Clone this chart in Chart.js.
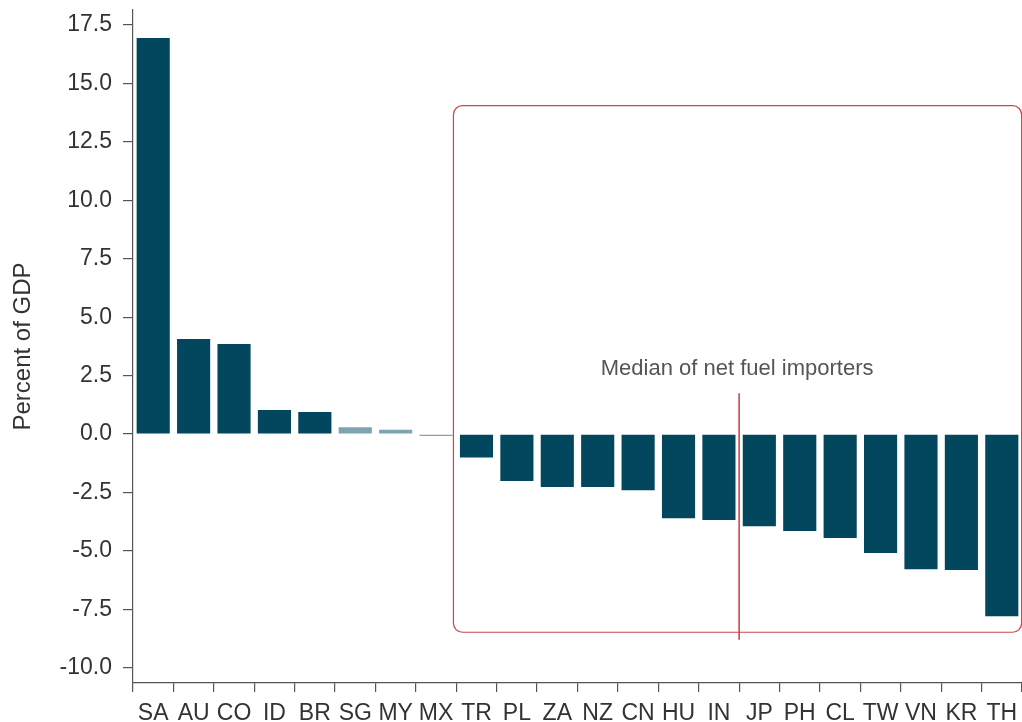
<!DOCTYPE html>
<html>
<head>
<meta charset="utf-8">
<script src="https://cdn.jsdelivr.net/npm/chart.js@4.4.1/dist/chart.umd.min.js"></script>
<style>
  html, body { margin: 0; padding: 0; background: #fff; }
  #wrap { width: 1022px; height: 722px; position: relative; }
</style>
</head>
<body>
<div id="wrap"><canvas id="balanceChart"></canvas></div>
<script>
// 국가 코드 / 값 (% of GDP)
const countries = ['SA', 'AU', 'CO', 'ID', 'BR', 'SG', 'MY', 'MX', 'TR', 'PL', 'ZA',
  'NZ', 'CN', 'HU', 'IN', 'JP', 'PH', 'CL', 'TW', 'VN', 'KR', 'TH'];
const values = [16.94, 4.07, 3.85, 1.03, 0.94, 0.29, 0.18, -0.08, -1.0, -2.01, -2.27,
  -2.27, -2.4, -3.6, -3.68, -3.94, -4.15, -4.45, -5.09, -5.78, -5.82, -7.79];
// 연한 색 막대 (SG, MY, MX)
const lightBars = ['SG', 'MY', 'MX'];
const yTicks = [-10, -7.5, -5, -2.5, 0, 2.5, 5, 7.5, 10, 12.5, 15, 17.5];

// 순 연료 수입국 박스 (category index / value 단위)
const boxX = [7.43, 21.49];
const boxY = [-8.48, 14.05];
const medianX = 14.5;
const medianY = [-8.8, 1.75];
const medianLabel = 'Median of net fuel importers';
const medianLabelY = 2.8;

const DARK = '#02475e';
const LIGHT = '#7ea4b1';
const RED = '#c9474a';
const FONT = '"Liberation Sans", Arial, sans-serif';

/* ── 박스 + 중앙값 선 플러그인 ── */
const importerBoxPlugin = {
  id: 'importerBox',
  afterDatasetsDraw(chart) {
    const { ctx } = chart;
    const x = chart.scales.x;
    const y = chart.scales.y;

    const left = x.getPixelForValue(boxX[0]);
    const right = x.getPixelForValue(boxX[1]);
    const top = y.getPixelForValue(boxY[1]);
    const bottom = y.getPixelForValue(boxY[0]);

    ctx.save();
    ctx.strokeStyle = RED;
    ctx.lineWidth = 1.2;
    ctx.beginPath();
    ctx.roundRect(left, top, right - left, bottom - top, 9);
    ctx.stroke();

    const mx = x.getPixelForValue(medianX);
    ctx.lineWidth = 1.6;
    ctx.beginPath();
    ctx.moveTo(mx, y.getPixelForValue(medianY[1]));
    ctx.lineTo(mx, y.getPixelForValue(medianY[0]));
    ctx.stroke();

    ctx.fillStyle = '#555';
    ctx.font = '22px ' + FONT;
    ctx.textAlign = 'center';
    ctx.textBaseline = 'middle';
    ctx.fillText(medianLabel, mx - 2, y.getPixelForValue(medianLabelY));
    ctx.restore();
  },
};

const tickFont = { family: FONT, size: 23 };

new Chart(document.getElementById('balanceChart'), {
  type: 'bar',
  data: {
    labels: countries,
    datasets: [{
      data: values,
      backgroundColor: countries.map((c) => (lightBars.includes(c) ? LIGHT : DARK)),
      borderWidth: 0,
      barPercentage: 0.82,
      categoryPercentage: 1,
    }],
  },
  options: {
    responsive: true,
    maintainAspectRatio: false,
    animation: false,
    layout: { padding: { top: 10, right: 0, left: 0, bottom: 0 } },
    plugins: { legend: { display: false }, tooltip: { enabled: false } },
    scales: {
      x: {
        offset: true,
        grid: { display: true, drawOnChartArea: false, offset: true, tickLength: 9, color: '#555', lineWidth: 1.2 },
        border: { display: true, color: '#555', width: 1.2 },
        ticks: { color: '#333', font: tickFont, padding: 8, maxRotation: 0, autoSkip: false },
        afterFit(scale) {
          scale.height = 39;
          scale.paddingLeft = 0;
          scale.paddingRight = 0;
        },
      },
      y: {
        min: -10.65,
        max: 18.14,
        afterBuildTicks(axis) { axis.ticks = yTicks.map((v) => ({ value: v })); },
        grid: { display: true, drawOnChartArea: false, tickLength: 10, color: '#555', lineWidth: 1.2 },
        border: { display: true, color: '#555', width: 1.2 },
        ticks: {
          color: '#333',
          font: tickFont,
          padding: 11,
          callback(v) { return Number(v).toFixed(1); },
        },
        title: {
          display: true,
          text: 'Percent of GDP',
          color: '#333',
          font: { family: FONT, size: 24 },
          padding: { top: 9, bottom: 0 },
        },
        afterFit(scale) {
          scale.width = 133;
          scale.paddingTop = 0;
          scale.paddingBottom = 0;
        },
      },
    },
  },
  plugins: [importerBoxPlugin],
});
</script>
</body>
</html>
